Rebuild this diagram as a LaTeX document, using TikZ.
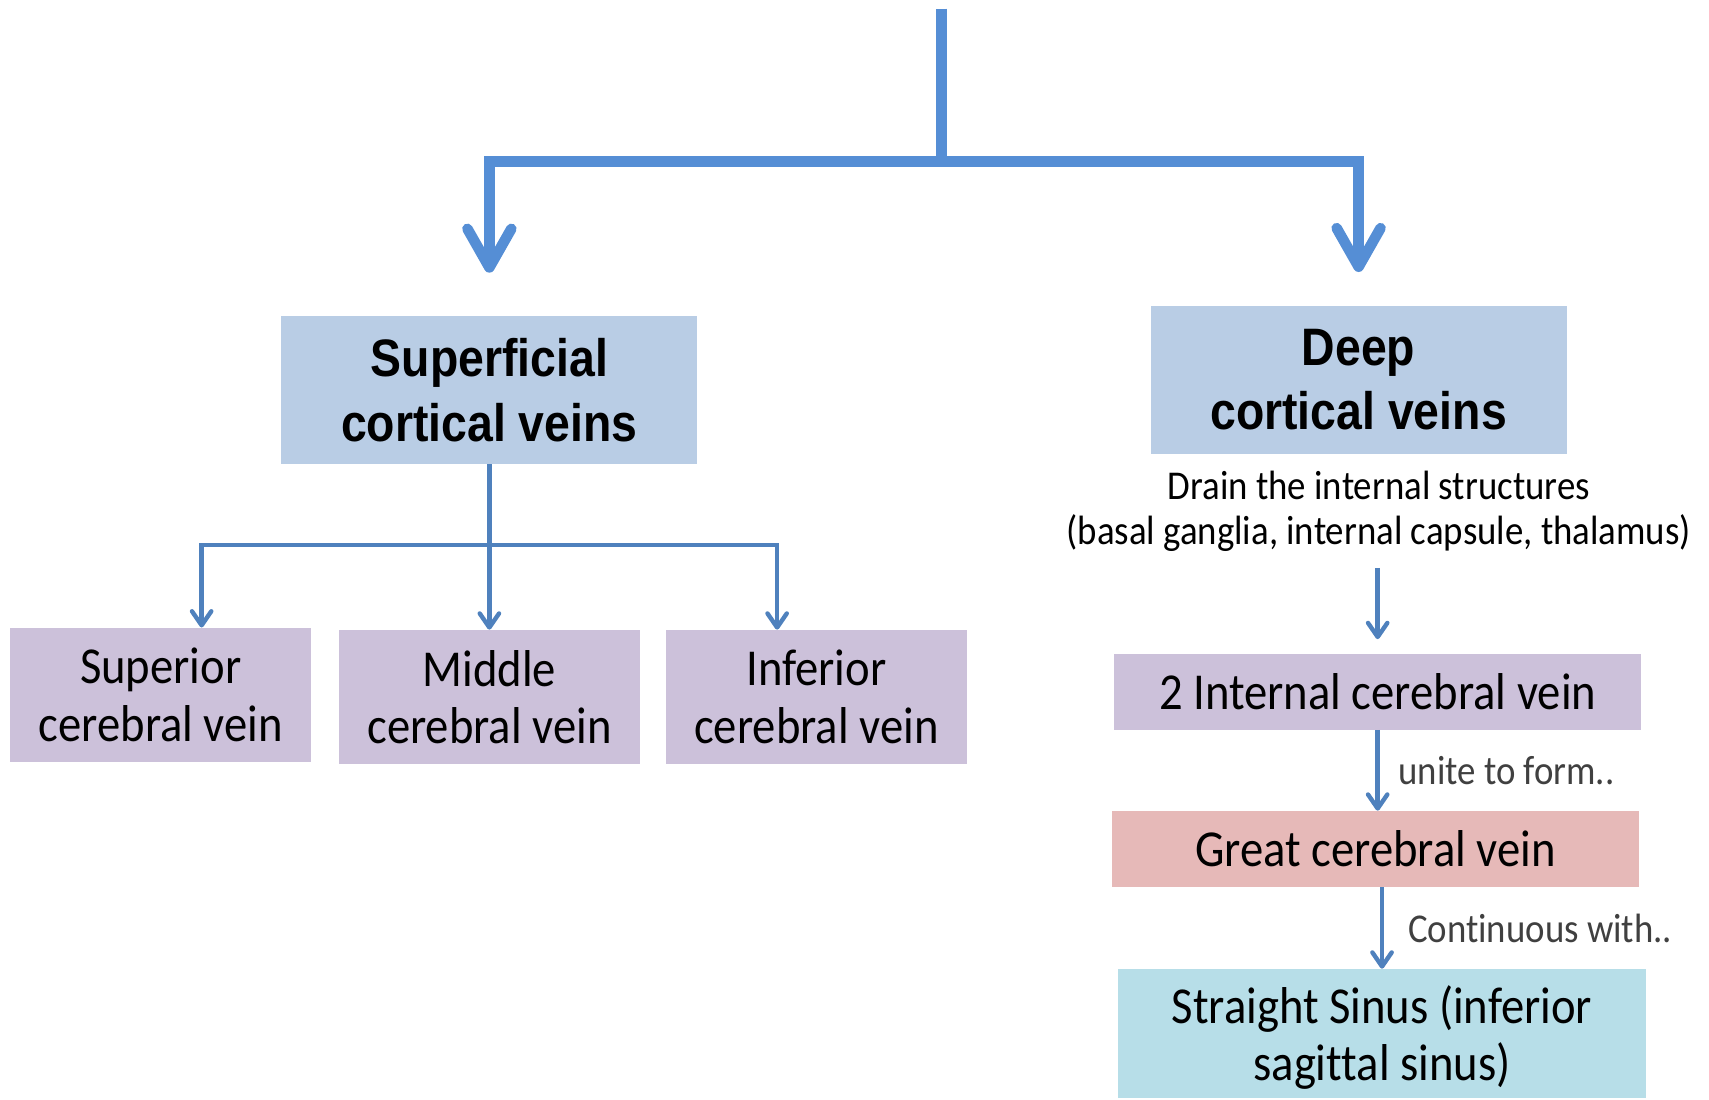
\documentclass[tikz,border=0pt]{standalone}
\usepackage{fontspec}
\setmainfont{Carlito}[FakeStretch=0.9,Ligatures=NoCommon]
\newfontfamily\headfont{Liberation Sans}[FakeStretch=0.88]
\usetikzlibrary{arrows.meta}
\definecolor{bigblue}{HTML}{558ED5}
\definecolor{lineblue}{HTML}{4F81BD}
\definecolor{paleblue}{HTML}{B9CDE5}
\definecolor{lavender}{HTML}{CCC1DA}
\definecolor{rose}{HTML}{E6B9B8}
\definecolor{aqua}{HTML}{B7DEE8}
\definecolor{labelgrey}{HTML}{404040}
\begin{document}
\begin{tikzpicture}[x=0.0218cm,y=-0.0218cm,
  headbox/.style={fill=paleblue,minimum width=8.32cm,minimum height=2.95cm,inner sep=0pt,align=center,font=\headfont\bfseries\fontsize{30}{36.5}\selectfont},
  veinbox/.style={fill=lavender,minimum width=6.03cm,minimum height=2.68cm,inner sep=0pt,align=center,font=\fontsize{29.5}{32.8}\selectfont},
  flowbox/.style={minimum width=10.55cm,minimum height=1.52cm,inner sep=0pt,align=center,font=\fontsize{29.5}{32.3}\selectfont},
  trunk/.style={bigblue,line width=6pt},
  bigarrow/.style={bigblue,line width=6pt,-{Straight Barb[length=22pt,width=25pt,round]}},
  twig/.style={lineblue,line width=2.5pt},
  smallarrow/.style={lineblue,line width=2.5pt,-{Straight Barb[length=8pt,width=11pt,round]}},
  note/.style={text=labelgrey,inner sep=0pt,font=\fontsize{23.3}{26}\selectfont}]
\useasboundingbox (0,0) rectangle (1568,1009);

\node[headbox] (superficial) at (449,358) {Superficial\\cortical veins};
\node[headbox] (deep) at (1246.5,348.5) {Deep\\cortical veins};

\node[veinbox] (superior) at (147.5,637.5) {Superior\\cerebral vein};
\node[veinbox] (middle) at (449,639.5) {Middle\\cerebral vein};
\node[veinbox] (inferior) at (749,639.5) {Inferior\\cerebral vein};

\node[note,text=black,align=center] (drain) at (1265,469) {Drain the internal structures\\(basal ganglia, internal capsule, thalamus)};
\node[flowbox,fill=lavender] (internal) at (1264,634.5) {2 Internal cerebral vein};
\node[flowbox,fill=rose] (great) at (1262,779) {Great cerebral vein};
\node[flowbox,fill=aqua,minimum height=2.57cm,text depth=-2.8pt] (straight) at (1268,948) {Straight Sinus (inferior\\sagittal sinus)};

\coordinate (top) at (864,8);
\coordinate (fork) at (864,148);
\coordinate (branch) at (449,500);
\coordinate (twigleft) at (185,500);
\coordinate (twigright) at (713,500);

\draw[trunk] (top) -- (fork);
\draw[trunk,line cap=rect] (superficial |- fork) -- (deep |- fork);
\draw[bigarrow,shorten >=24.7pt] (superficial |- fork) -- (superficial.north);
\draw[bigarrow,shorten >=19.2pt] (deep |- fork) -- (deep.north);

\draw[twig] (superficial.south) -- (branch);
\draw[twig,line cap=rect] (twigleft) -- (twigright);
\draw[smallarrow] (twigleft) -- (twigleft |- superior.north);
\draw[smallarrow] (branch) -- (middle.north);
\draw[smallarrow] (twigright) -- (twigright |- inferior.north);

\draw[smallarrow,shorten <=9pt,shorten >=8pt] (drain.south -| internal) -- (internal.north);
\draw[smallarrow] (internal.south) -- node[note,right=10.5pt] {unite to form..} (internal.south |- great.north);
\draw[smallarrow] (great.south -| straight) -- node[note,right=13.6pt] {Continuous with..} (straight.north);
\end{tikzpicture}
\end{document}
